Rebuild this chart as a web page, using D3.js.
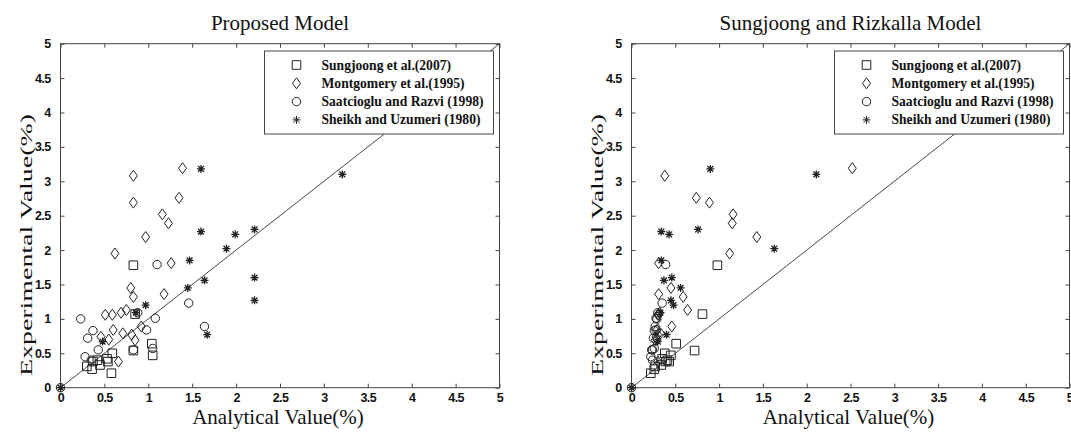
<!DOCTYPE html>
<html>
<head>
<meta charset="utf-8">
<script src="https://cdn.jsdelivr.net/npm/d3@7"></script>
<style>
  body { margin: 0; background: #fff; }
  .tick text { font-family: "Liberation Sans Narrow", "Arial Narrow", "Liberation Sans", Arial, sans-serif; font-weight: bold; font-size: 12.5px; letter-spacing: -0.6px; fill: #111; }
  .tick line { stroke: #444; }
  .axis path { display: none; }
  .serif { font-family: "Liberation Serif", "Times New Roman", serif; fill: #111; }
</style>
</head>
<body>
<div id="canvas"></div>
<script>
// legend names
var seriesNames = ['Sungjoong et al.(2007)', 'Montgomery et al.(1995)',
                   'Saatcioglu and Razvi (1998)', 'Sheikh and Uzumeri (1980)'];
var seriesShapes = ['square', 'diamond', 'circle', 'star'];

var tickValues = [0, 0.5, 1, 1.5, 2, 2.5, 3, 3.5, 4, 4.5, 5];
var diagonal = [[0, 0], [5, 5]];

// experimental values (same specimens in both panels)
var sungjoongExp = [1.78, 1.07, 0.64, 0.54, 0.47, 0.50, 0.42, 0.40, 0.38, 0.38, 0.33, 0.31, 0.27, 0.21];
var sungjoongProposed = [0.83, 0.85, 1.04, 0.83, 1.05, 0.59, 0.53, 0.42, 0.37, 0.54, 0.45, 0.30, 0.36, 0.58];
var sungjoongSR = [0.98, 0.81, 0.51, 0.72, 0.45, 0.38, 0.35, 0.41, 0.39, 0.43, 0.34, 0.27, 0.26, 0.22];

var montgomeryExp = [3.19, 3.08, 2.76, 2.69, 2.52, 2.39, 2.19, 1.95, 1.81, 1.45, 1.36, 1.32, 1.13, 1.09,
                     1.06, 1.06, 0.89, 0.84, 0.79, 0.77, 0.74, 0.70, 0.69, 0.38];
var montgomeryProposed = [1.39, 0.83, 1.35, 0.83, 1.16, 1.23, 0.97, 0.62, 1.26, 0.80, 1.18, 0.83, 0.75, 0.69,
                          0.51, 0.59, 0.92, 0.60, 0.71, 0.81, 0.46, 0.55, 0.85, 0.66];
var montgomerySR = [2.52, 0.38, 0.74, 0.89, 1.16, 1.15, 1.43, 1.12, 0.31, 0.45, 0.31, 0.59, 0.64, 0.32,
                    0.30, 0.31, 0.46, 0.29, 0.33, 0.30, 0.28, 0.29, 0.27, 0.30];

var saatciogluExp = [1.79, 1.23, 1.09, 1.01, 1.00, 0.89, 0.84, 0.83, 0.72, 0.57, 0.55, 0.55, 0.45, 0.40, 0];
var saatciogluProposed = [1.10, 1.46, 0.88, 1.08, 0.23, 1.64, 0.98, 0.37, 0.31, 1.05, 0.83, 0.43, 0.28, 0.35, 0];
var saatciogluSR = [0.39, 0.35, 0.30, 0.28, 0.29, 0.27, 0.28, 0.26, 0.25, 0.26, 0.23, 0.24, 0.22, 0.24, 0];

var sheikhExp = [3.18, 3.10, 2.30, 2.27, 2.23, 2.02, 1.85, 1.60, 1.56, 1.45, 1.27, 1.20, 1.09, 0.77, 0.67, 0];
var sheikhProposed = [1.60, 3.21, 2.21, 1.60, 1.99, 1.89, 1.47, 2.21, 1.64, 1.45, 2.21, 0.97, 0.86, 1.67, 0.48, 0];
var sheikhSR = [0.90, 2.11, 0.76, 0.34, 0.43, 1.63, 0.34, 0.46, 0.37, 0.56, 0.45, 0.48, 0.33, 0.40, 0.30, 0];

var panels = [
  {title: 'Proposed Model', x0: 60.5, x1: 499.5,
   analytical: [sungjoongProposed, montgomeryProposed, saatciogluProposed, sheikhProposed]},
  {title: 'Sungjoong and Rizkalla Model', x0: 631.5, x1: 1069.5,
   analytical: [sungjoongSR, montgomerySR, saatciogluSR, sheikhSR]}
];
var experimental = [sungjoongExp, montgomeryExp, saatciogluExp, sheikhExp];

var W = 1071, H = 432,
    yTop = 43.7, yBottom = 387.7;

var svg = d3.select('#canvas').append('svg')
  .attr('width', W)
  .attr('height', H);

var line = d3.line();
var fmt = function(d) { return String(d); };

function markerPath(shape) {
  if (shape == 'square') return 'M-4.3,-4.3H4.3V4.3H-4.3Z';
  if (shape == 'diamond') return 'M0,-5.5L4,0L0,5.5L-4,0Z';
  if (shape == 'circle') return 'M4.2,0A4.2,4.2 0 1,1 -4.2,0A4.2,4.2 0 1,1 4.2,0Z';
  // asterisk, plus and cross
  return 'M-4,0H4M0,-4V4M-2.9,-2.9L2.9,2.9M-2.9,2.9L2.9,-2.9';
}

panels.forEach(function(p) {
  var x = d3.scaleLinear().domain([0, 5]).range([p.x0, p.x1]);
  var y = d3.scaleLinear().domain([0, 5]).range([yBottom, yTop]);
  var g = svg.append('g');

  // axes with inward ticks
  g.append('g').attr('class', 'axis')
    .attr('transform', 'translate(0,' + yBottom + ')')
    .call(d3.axisBottom(x).tickValues(tickValues).tickFormat(fmt)
      .tickSizeInner(-4).tickSizeOuter(0).tickPadding(5));
  g.append('g').attr('class', 'axis')
    .attr('transform', 'translate(' + p.x0 + ',0)')
    .call(d3.axisLeft(y).tickValues(tickValues).tickFormat(fmt)
      .tickSizeInner(-4).tickSizeOuter(0).tickPadding(10));
  g.append('g').attr('class', 'axis')
    .attr('transform', 'translate(0,' + yTop + ')')
    .call(d3.axisTop(x).tickValues(tickValues).tickSizeInner(-4).tickSizeOuter(0).tickFormat(''));
  g.append('g').attr('class', 'axis')
    .attr('transform', 'translate(' + p.x1 + ',0)')
    .call(d3.axisRight(y).tickValues(tickValues).tickSizeInner(-4).tickSizeOuter(0).tickFormat(''));

  g.append('rect')
    .attr('x', p.x0).attr('y', yTop)
    .attr('width', p.x1 - p.x0).attr('height', yBottom - yTop)
    .attr('fill', 'none').attr('stroke', '#444').attr('stroke-width', 1);

  // y = x line
  g.append('path')
    .attr('d', line(diagonal.map(function(d) { return [x(d[0]), y(d[1])]; })))
    .attr('fill', 'none').attr('stroke', '#333').attr('stroke-width', 0.9);

  // markers
  seriesShapes.forEach(function(shape, i) {
    var pts = experimental[i].map(function(e, j) { return {a: p.analytical[i][j], e: e}; });
    g.selectAll('.m' + i).data(pts).enter()
      .append('path')
      .attr('class', 'm' + i)
      .attr('transform', function(d) { return 'translate(' + x(d.a) + ',' + y(d.e) + ')'; })
      .attr('d', markerPath(shape))
      .attr('fill', 'none')
      .attr('stroke', '#222')
      .attr('stroke-width', shape == 'star' ? 1.3 : 1);
  });

  // legend
  var lx = p.x1 - 235, ly = 51;
  var leg = g.append('g');
  leg.append('rect')
    .attr('x', lx).attr('y', ly).attr('width', 229).attr('height', 83)
    .attr('fill', '#fff').attr('stroke', '#444');
  seriesNames.forEach(function(name, i) {
    var cy = 65 + i * 18.3;
    leg.append('path')
      .attr('transform', 'translate(' + (lx + 32) + ',' + cy + ')')
      .attr('d', markerPath(seriesShapes[i]))
      .attr('fill', 'none').attr('stroke', '#222');
    leg.append('text')
      .attr('class', 'serif')
      .attr('x', lx + 57).attr('y', cy + 4.5)
      .style('font-size', '13.6px').style('font-weight', 'bold')
      .text(name);
  });

  // titles and labels
  var cx = (p.x0 + p.x1) / 2;
  g.append('text').attr('class', 'serif')
    .attr('x', cx).attr('y', 30)
    .attr('text-anchor', 'middle')
    .style('font-size', '21px')
    .text(p.title);
  g.append('text').attr('class', 'serif')
    .attr('x', cx - 2).attr('y', 424)
    .attr('text-anchor', 'middle')
    .style('font-size', '21px')
    .text('Analytical Value(%)');
  g.append('text').attr('class', 'serif')
    .attr('transform', 'translate(' + (p.x0 - 29) + ',245) rotate(-90)')
    .attr('text-anchor', 'middle')
    .attr('textLength', 262)
    .attr('lengthAdjust', 'spacingAndGlyphs')
    .style('font-size', '17px')
    .text('Experimental Value(%)');
});
</script>
</body>
</html>
